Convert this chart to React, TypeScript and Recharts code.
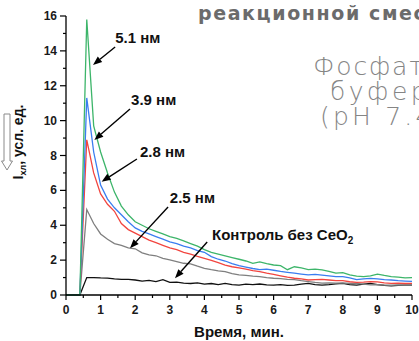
import React from 'react'
import { LineChart, Line, XAxis, YAxis, ReferenceLine, ReferenceDot } from 'recharts'

// время, мин (шаг 0.2)
const times = [
  0, 0.2, 0.4, 0.6, 0.8, 1.0, 1.2, 1.4, 1.6, 1.8, 2.0, 2.2, 2.4, 2.6, 2.8, 3.0, 3.2, 3.4, 3.6, 3.8,
  4.0, 4.2, 4.4, 4.6, 4.8, 5.0, 5.2, 5.4, 5.6, 5.8, 6.0, 6.2, 6.4, 6.6, 6.8, 7.0, 7.2, 7.4, 7.6, 7.8,
  8.0, 8.2, 8.4, 8.6, 8.8, 9.0, 9.2, 9.4, 9.6, 9.8, 10.0,
]

const ceo51 = [
  0, 0, 0, 15.8, 9.7, 8.2, 7.0, 5.9, 5.1, 4.6, 4.2, 4.0, 3.8, 3.65, 3.5, 3.35, 3.25, 3.1, 2.95, 2.8,
  2.6, 2.45, 2.35, 2.25, 2.15, 2.05, 1.95, 1.82, 1.9, 1.8, 1.72, 1.68, 1.45, 1.62, 1.55, 1.45, 1.48, 1.44, 1.35, 1.25,
  1.28, 1.15, 1.08, 1.05, 1.1, 1.2, 1.12, 1.05, 1.03, 0.98, 1.0,
]
const ceo39 = [
  0, 0, 0, 11.3, 8.2, 6.3, 5.5, 5.0, 4.6, 4.2, 3.85, 3.65, 3.5, 3.35, 3.2, 3.05, 2.95, 2.8, 2.7, 2.55,
  2.45, 2.2, 2.05, 1.95, 1.8, 1.68, 1.6, 1.52, 1.45, 1.48, 1.42, 1.35, 1.3, 1.25, 1.2, 1.15, 1.18, 1.14, 1.1, 1.05,
  1.05, 0.98, 0.88, 0.92, 0.95, 0.92, 0.88, 0.86, 0.82, 0.8, 0.78,
]
const ceo28 = [
  0, 0, 0, 8.9, 7.0, 5.8, 5.2, 4.8, 4.1, 3.75, 3.55, 3.35, 3.15, 3.0, 2.85, 2.7, 2.6, 2.45, 2.35, 2.22,
  2.1, 1.98, 1.85, 1.72, 1.62, 1.55, 1.48, 1.4, 1.34, 1.25, 1.18, 1.1, 1.02, 0.96, 0.92, 0.86, 0.88, 0.9, 0.86, 0.82,
  0.82, 0.76, 0.72, 0.74, 0.77, 0.75, 0.7, 0.67, 0.68, 0.66, 0.67,
]
const ceo25 = [
  0, 0, 0, 4.9, 4.1, 3.5, 3.2, 2.95, 2.85, 2.7, 2.65, 2.42, 2.3, 2.25, 2.1, 2.02, 1.92, 1.82, 1.78, 1.65,
  1.53, 1.45, 1.38, 1.34, 1.22, 1.15, 1.12, 1.08, 1.05, 1.0, 0.96, 0.94, 0.9, 0.88, 0.82, 0.77, 0.72, 0.68, 0.7, 0.68,
  0.7, 0.66, 0.67, 0.62, 0.58, 0.6, 0.57, 0.56, 0.58, 0.57, 0.57,
]
const control = [
  0, 0, 0, 1.0, 1.0, 0.98, 0.97, 0.92, 0.9, 0.9, 0.86, 0.8, 0.84, 0.77, 0.88, 0.72, 0.74, 0.68, 0.66, 0.7,
  0.62, 0.66, 0.6, 0.67, 0.6, 0.57, 0.62, 0.6, 0.63, 0.58, 0.57, 0.6, 0.55, 0.57, 0.62, 0.67, 0.6, 0.57, 0.6, 0.64,
  0.67, 0.6, 0.57, 0.62, 0.67, 0.6, 0.55, 0.52, 0.55, 0.57, 0.57,
]

const xTicks = [0, 0.5, 1, 1.5, 2, 2.5, 3, 3.5, 4, 4.5, 5, 5.5, 6, 6.5, 7, 7.5, 8, 8.5, 9, 9.5, 10]
const yTicks = [0, 1, 2, 3, 4, 5, 6, 7, 8, 9, 10, 11, 12, 13, 14, 15, 16]

// подписи со стрелками (в координатах данных)
const notes = [
  { text: '5.1 нм', tx: 1.42, ty: 14.45, x1: 1.42, y1: 14.22, x2: 0.78, y2: 13.19 },
  { text: '3.9 нм', tx: 1.88, ty: 10.89, x1: 1.85, y1: 10.67, x2: 0.82, y2: 8.89 },
  { text: '2.8 нм', tx: 2.14, ty: 7.91, x1: 2.05, y1: 7.8, x2: 1.03, y2: 6.5 },
  { text: '2.5 нм', tx: 3.0, ty: 5.28, x1: 2.95, y1: 5.05, x2: 1.85, y2: 2.68 },
  { text: 'Контроль без CeO', sub: '2', tx: 4.22, ty: 3.15, x1: 4.08, y1: 3.04, x2: 3.15, y2: 0.96 },
]

const data = times.map((t, i) => ({
  t,
  g: ceo51[i],
  b: ceo39[i],
  r: ceo28[i],
  gr: ceo25[i],
  k: control[i],
}))

const font = '"Liberation Sans", Arial, sans-serif'

function XTick(props: any) {
  const { x, y, payload } = props
  const major = Number.isInteger(payload.value)
  return (
    <g>
      <line x1={x} y1={y} x2={x} y2={y + (major ? 5 : 3)} stroke="#000" strokeWidth={1.2} />
      {major && (
        <text x={x} y={y + 19} textAnchor="middle" fontFamily={font} fontWeight="bold" fontSize={12} fill="#1a1a1a">
          {payload.value}
        </text>
      )}
    </g>
  )
}

function YTick(props: any) {
  const { x, y, payload } = props
  const major = payload.value % 2 === 0
  return (
    <g>
      <line x1={x} y1={y} x2={x - (major ? 6 : 3)} y2={y} stroke="#000" strokeWidth={1.2} />
      {major && (
        <text x={x - 9} y={y + 4} textAnchor="end" fontFamily={font} fontWeight="bold" fontSize={12} fill="#1a1a1a">
          {payload.value}
        </text>
      )}
    </g>
  )
}

function XTitle(props: any) {
  const { x, y, width } = props.viewBox
  return (
    <text x={x + width / 2} y={y + 42} textAnchor="middle" fontFamily={font} fontWeight="bold" fontSize={15} fill="#111">
      Время, мин.
    </text>
  )
}

function YTitle() {
  return (
    <g>
      <path d="M4 114 H10 V161 H12.5 L7 170 L1.5 161 H4 Z" fill="none" stroke="#8a8a8a" strokeWidth={1} />
      <text transform="translate(23,142) rotate(-90)" textAnchor="middle" fontFamily={font} fontWeight="bold" fontSize={14} fill="#111">
        I<tspan fontSize={9} dy={3}>хл</tspan>
        <tspan dy={-3}>, усл. ед.</tspan>
      </text>
    </g>
  )
}

function Arrow(p: any) {
  const { x1, y1, x2, y2 } = p
  const a = Math.atan2(y2 - y1, x2 - x1)
  const L = 9
  const W = 3.5
  const bx = x2 - L * Math.cos(a)
  const by = y2 - L * Math.sin(a)
  const pts = `${x2},${y2} ${bx - W * Math.sin(a)},${by + W * Math.cos(a)} ${bx + W * Math.sin(a)},${by - W * Math.cos(a)}`
  return (
    <g>
      <line x1={x1} y1={y1} x2={bx} y2={by} stroke="#000" strokeWidth={1.4} />
      <polygon points={pts} fill="#000" />
    </g>
  )
}

export default function App() {
  return (
    <div style={{ position: 'absolute', left: 0, top: 0, width: 419, height: 341, overflow: 'hidden', background: '#fff' }}>
      <LineChart width={419} height={341} data={data} margin={{ top: 16, right: 7, bottom: 0, left: 0 }}>
        <XAxis
          dataKey="t"
          type="number"
          domain={[0, 10]}
          ticks={xTicks}
          interval={0}
          height={46}
          tickSize={0}
          tickMargin={0}
          tickLine={false}
          tick={<XTick />}
          axisLine={{ stroke: '#000', strokeWidth: 1.3 }}
          label={<XTitle />}
        />
        <YAxis
          type="number"
          domain={[0, 16]}
          ticks={yTicks}
          interval={0}
          width={66}
          tickSize={0}
          tickMargin={0}
          tickLine={false}
          tick={<YTick />}
          axisLine={{ stroke: '#000', strokeWidth: 1.3 }}
          label={<YTitle />}
        />
        <Line dataKey="k" stroke="#111111" strokeWidth={1.3} dot={false} isAnimationActive={false} />
        <Line dataKey="gr" stroke="#7f7f7f" strokeWidth={1.3} dot={false} isAnimationActive={false} />
        <Line dataKey="r" stroke="#f2453f" strokeWidth={1.3} dot={false} isAnimationActive={false} />
        <Line dataKey="b" stroke="#3a7df0" strokeWidth={1.3} dot={false} isAnimationActive={false} />
        <Line dataKey="g" stroke="#3db56a" strokeWidth={1.3} dot={false} isAnimationActive={false} />
        {notes.map((n) => (
          <ReferenceLine
            key={'l' + n.text}
            segment={[{ x: n.x1, y: n.y1 }, { x: n.x2, y: n.y2 }]}
            ifOverflow="visible"
            shape={Arrow}
          />
        ))}
        {notes.map((n) => (
          <ReferenceDot
            key={'t' + n.text}
            x={n.tx}
            y={n.ty}
            r={0}
            ifOverflow="visible"
            shape={(p: any) => (
              <text x={p.cx} y={p.cy} fontFamily={font} fontWeight="bold" fontSize={15} fill="#111">
                {n.text}
                {n.sub && (
                  <tspan fontSize={10} dy={4}>
                    {n.sub}
                  </tspan>
                )}
              </text>
            )}
          />
        ))}
      </LineChart>
      <div style={{ position: 'absolute', left: 198, top: 2, whiteSpace: 'nowrap', fontFamily: '"DejaVu Sans", sans-serif', fontWeight: 'bold', fontSize: 19, color: '#6b6b6b', letterSpacing: 1.6 }}>
        реакционной смеси
      </div>
      <div style={{ position: 'absolute', left: 313, top: 54, whiteSpace: 'nowrap', fontFamily: '"DejaVu Sans", sans-serif', fontWeight: 200, fontSize: 25, lineHeight: '25px', color: '#858585', letterSpacing: 1.8 }}>
        <div>Фосфатный</div>
        <div style={{ marginLeft: 17, letterSpacing: 3.5 }}>буфер</div>
        <div style={{ marginLeft: 7, letterSpacing: 3.2 }}>(pH 7.4)</div>
      </div>
    </div>
  )
}
